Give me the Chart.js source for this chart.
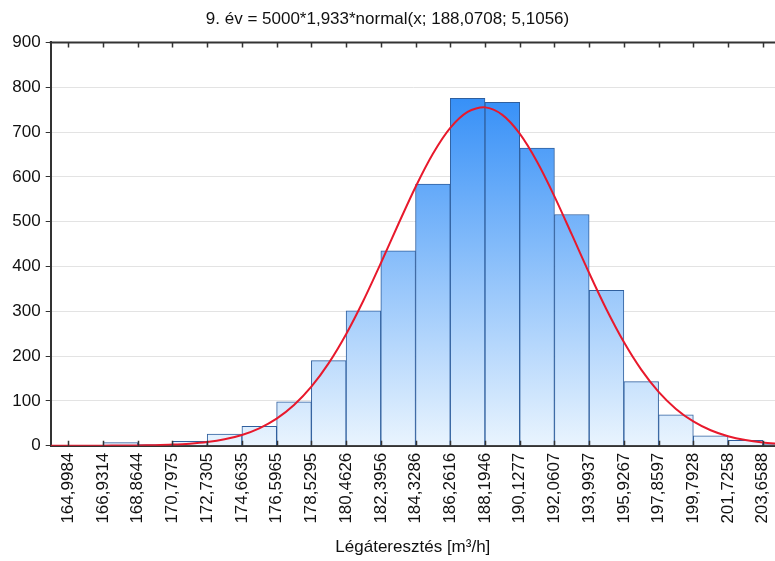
<!DOCTYPE html>
<html>
<head>
<meta charset="utf-8">
<script src="https://cdn.jsdelivr.net/npm/chart.js@4/dist/chart.umd.min.js"></script>
<style>
  html, body { margin: 0; padding: 0; background: #ffffff; }
  #wrap { width: 775px; height: 561px; }
</style>
</head>
<body>
<div id="wrap"><canvas id="c" width="775" height="561"></canvas></div>
<script>
// ---- data ----
const chartTitle = '9. év = 5000*1,933*normal(x; 188,0708; 5,1056)';
const xAxisTitle = 'Légáteresztés [m³/h]';

// tick labels at the bin edges
const tickLabels = ['164,9984','166,9314','168,8644','170,7975','172,7305','174,6635',
  '176,5965','178,5295','180,4626','182,3956','184,3286','186,2616','188,1946',
  '190,1277','192,0607','193,9937','195,9267','197,8597','199,7928','201,7258','203,6588'];

// bin centres and counts (histogram bars)
const binMids = [165.9649,167.8979,169.8310,171.7640,173.6970,175.6300,177.5630,179.4961,
  181.4291,183.3621,185.2951,187.2281,189.1612,191.0942,193.0272,194.9602,196.8932,
  198.8263,200.7593,202.6923,204.6253];
const binCounts = [1,7,3,10,26,43,98,190,301,435,584,775,766,664,516,347,143,69,22,12,3];

// fitted normal curve (values typed in at half-bin steps)
const curveX = [164.0319,164.9984,165.9649,166.9314,167.8979,168.8644,169.8310,170.7975,
  171.7640,172.7305,173.6970,174.6635,175.6300,176.5965,177.5630,178.5295,179.4961,
  180.4626,181.4291,182.3956,183.3621,184.3286,185.2951,186.2616,187.2281,188.1946,
  189.1612,190.1277,191.0942,192.0607,193.0272,193.9937,194.9602,195.9267,196.8932,
  197.8597,198.8263,199.7928,200.7593,201.7258,202.6923,203.6588,204.6253];
const curveY = [0.01,0.03,0.06,0.14,0.31,0.64,1.28,2.47,4.60,8.27,14.36,24.0,38.8,60.4,
  90.8,131.7,184.3,248.8,324.0,407.2,493.6,577.3,651.4,709.2,745.0,755.0,738.2,696.3,
  633.7,556.5,471.4,385.3,303.9,231.2,169.7,120.2,82.1,54.1,34.4,21.1,12.5,7.14,3.93];

const yMin = 0, yMax = 900, yStep = 100;
const xMin = 164.018, xMax = 204.34;

const tickValues = tickLabels.map(s => parseFloat(s.replace(',', '.')));

const FONT = "'Liberation Sans', Arial, sans-serif";

function barGradient(ctx) {
  const chart = ctx.chart;
  const a = chart.chartArea;
  if (!a) return '#6fb0f5';
  const g = chart.ctx.createLinearGradient(0, a.top, 0, a.bottom);
  g.addColorStop(0, '#1a80f6');
  g.addColorStop(1, '#e9f4fe');
  return g;
}

const frame = {
  id: 'frame',
  afterDraw(chart) {
    const ctx = chart.ctx, a = chart.chartArea, xs = chart.scales.x;
    ctx.save();
    ctx.strokeStyle = '#333333';
    ctx.lineWidth = 2;
    ctx.beginPath();
    ctx.moveTo(a.left - 1, a.top);
    ctx.lineTo(a.right, a.top);
    ctx.stroke();
    ctx.lineWidth = 1.5;
    ctx.beginPath();
    tickValues.forEach(v => {
      const px = Math.round(xs.getPixelForValue(v)) + 0.5;
      ctx.moveTo(px, a.top); ctx.lineTo(px, a.top + 5);
      ctx.moveTo(px, a.bottom); ctx.lineTo(px, a.bottom - 5);
    });
    ctx.stroke();
    ctx.restore();
  }
};

new Chart(document.getElementById('c'), {
  type: 'bar',
  data: {
    datasets: [
      {
        type: 'line',
        data: curveX.map((x, i) => ({ x: x, y: curveY[i] })),
        borderColor: '#e8192c',
        borderWidth: 2,
        pointRadius: 0,
        tension: 0.3,
        fill: false,
        order: 0
      },
      {
        type: 'bar',
        data: binMids.map((x, i) => ({ x: x, y: binCounts[i] })),
        backgroundColor: barGradient,
        borderColor: '#2f5f9e',
        borderWidth: 1,
        barPercentage: 1,
        categoryPercentage: 1,
        order: 1
      }
    ]
  },
  plugins: [frame],
  options: {
    responsive: false,
    animation: false,
    devicePixelRatio: 1,
    layout: { padding: { left: 0, right: 0, top: 0, bottom: 0 } },
    plugins: {
      legend: { display: false },
      tooltip: { enabled: false },
      title: {
        display: true,
        text: chartTitle,
        color: '#111111',
        font: { family: FONT, size: 17, weight: 'normal' },
        padding: { top: 9, bottom: 13 }
      }
    },
    scales: {
      x: {
        type: 'linear',
        min: xMin,
        max: xMax,
        offset: false,
        afterBuildTicks: (scale) => { scale.ticks = tickValues.map(v => ({ value: v })); },
        afterFit: (scale) => { scale.height = 115.3; scale.paddingLeft = 0; scale.paddingRight = 0; },
        ticks: {
          autoSkip: false,
          minRotation: 90,
          maxRotation: 90,
          padding: 7,
          color: '#111111',
          font: { family: FONT, size: 17 },
          callback: (value, index) => tickLabels[index]
        },
        grid: { drawOnChartArea: false, drawTicks: false },
        border: { display: true, color: '#333333', width: 2 },
        title: {
          display: true,
          text: xAxisTitle,
          color: '#111111',
          font: { family: FONT, size: 17 },
          padding: { top: 0, bottom: 3 }
        }
      },
      y: {
        min: yMin,
        max: yMax,
        afterFit: (scale) => { scale.width = 50.7; scale.paddingTop = 0; scale.paddingBottom = 0; },
        ticks: {
          stepSize: yStep,
          padding: 5,
          color: '#111111',
          font: { family: FONT, size: 17 }
        },
        grid: { color: '#e3e3e3', lineWidth: 1, tickLength: 5, tickColor: '#333333' },
        border: { display: true, color: '#333333', width: 2 }
      }
    }
  }
});
</script>
</body>
</html>
